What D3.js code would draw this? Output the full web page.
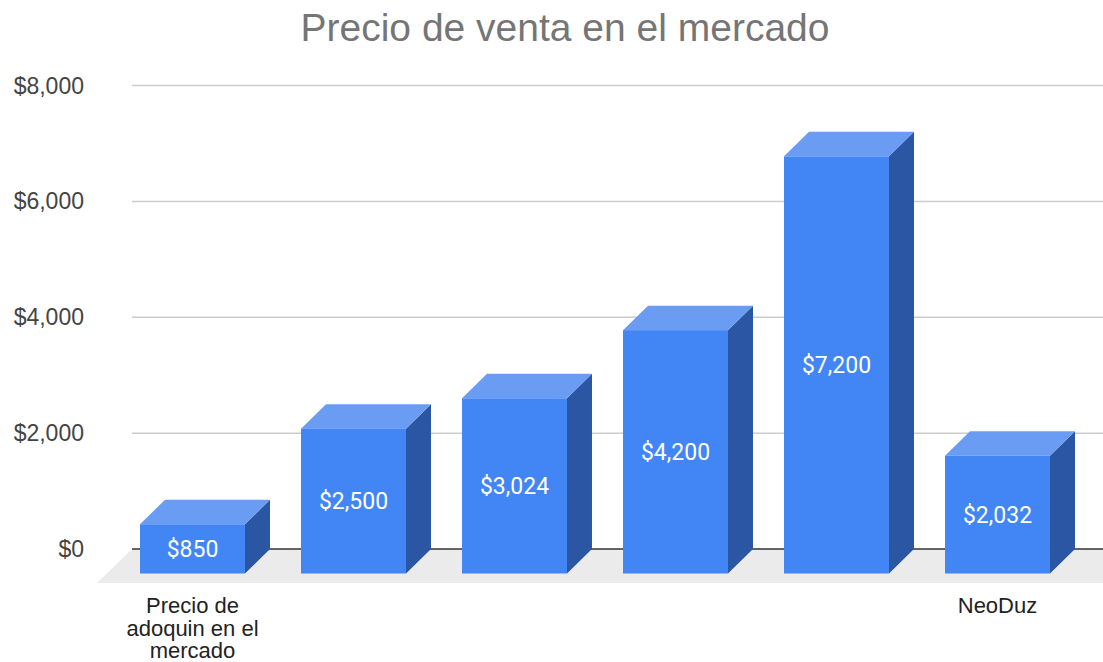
<!DOCTYPE html>
<html>
<head>
<meta charset="utf-8">
<script src="https://cdn.jsdelivr.net/npm/d3@7"></script>
<style>
  body { margin: 0; background: #fff; }
</style>
</head>
<body>
<div id="chart"></div>
<script>
// data
const categories = ["Precio de adoquin en el mercado", "", "", "", "", "NeoDuz"];
const prices = [850, 2500, 3024, 4200, 7200, 2032];
const yTicks = [0, 2000, 4000, 6000, 8000];

const width = 1103, height = 662;
const depthX = 25, depthY = 24.5;   // 3d offset of the back plane

const svg = d3.select("#chart").append("svg")
    .attr("width", width)
    .attr("height", height);

// back plane scales
const x = d3.scaleBand()
    .domain(d3.range(categories.length))
    .range([137, 1103])
    .paddingInner(0.348)
    .paddingOuter(0.174);

const y = d3.scaleLinear()
    .domain([0, 8000])
    .range([549, 85.5]);

const fmt = v => "$" + d3.format(",")(v);

// title
svg.append("text")
    .attr("x", 565)
    .attr("y", 41)
    .attr("text-anchor", "middle")
    .attr("font-family", "Liberation Sans, Arial, sans-serif")
    .attr("font-size", "39px")
    .attr("fill", "#757575")
    .text("Precio de venta en el mercado");

// floor
const floorBack = y(0), floorFront = floorBack + 34;
svg.append("polygon")
    .attr("points", [[132, floorBack], [1140, floorBack], [1106, floorFront], [97, floorFront]].join(" "))
    .attr("fill", "#ebebeb");

// gridlines
svg.append("g").selectAll("line")
    .data(yTicks.filter(d => d > 0))
    .join("line")
    .attr("x1", 132)
    .attr("x2", width)
    .attr("y1", d => y(d))
    .attr("y2", d => y(d))
    .attr("stroke", "#cccccc")
    .attr("stroke-width", 1.5);

// zero line
svg.append("line")
    .attr("x1", 132)
    .attr("x2", width)
    .attr("y1", y(0))
    .attr("y2", y(0))
    .attr("stroke", "#333333")
    .attr("stroke-width", 1.5);

// y labels
svg.append("g").selectAll("text")
    .data(yTicks)
    .join("text")
    .attr("x", 84)
    .attr("y", d => y(d) + 8)
    .attr("text-anchor", "end")
    .attr("font-family", "Liberation Sans, Arial, sans-serif")
    .attr("font-size", "23px")
    .attr("fill", "#444444")
    .text(fmt);

// bars
const bars = svg.append("g").selectAll("g")
    .data(prices)
    .join("g");

const bw = x.bandwidth();
const fx = (d, i) => x(i) - depthX;          // front left
const ft = d => y(d) + depthY;               // front top
const fb = y(0) + depthY;                    // front bottom

bars.append("polygon")  // side
    .attr("points", (d, i) => [
        [fx(d, i) + bw, ft(d)],
        [fx(d, i) + bw + depthX, ft(d) - depthY],
        [fx(d, i) + bw + depthX, fb - depthY],
        [fx(d, i) + bw, fb]
    ].join(" "))
    .attr("fill", "#2b56a3");

bars.append("polygon")  // top
    .attr("points", (d, i) => [
        [fx(d, i), ft(d)],
        [fx(d, i) + bw, ft(d)],
        [fx(d, i) + bw + depthX, ft(d) - depthY],
        [fx(d, i) + depthX, ft(d) - depthY]
    ].join(" "))
    .attr("fill", "#6a9cf4");

bars.append("rect")     // front
    .attr("x", (d, i) => fx(d, i))
    .attr("y", d => ft(d))
    .attr("width", bw)
    .attr("height", d => fb - ft(d))
    .attr("fill", "#4285f4");

bars.append("text")
    .attr("x", (d, i) => fx(d, i) + bw / 2)
    .attr("y", d => (ft(d) + fb) / 2 + 8)
    .attr("text-anchor", "middle")
    .attr("font-family", "Roboto, sans-serif")
    .attr("font-size", "23px")
    .attr("fill", "#ffffff")
    .text(fmt);

// category labels (wrapped)
const catG = svg.append("g").selectAll("text")
    .data(categories)
    .join("text")
    .attr("x", (d, i) => fx(0, i) + bw / 2)
    .attr("y", 613)
    .attr("text-anchor", "middle")
    .attr("font-family", "Liberation Sans, Arial, sans-serif")
    .attr("font-size", "22px")
    .attr("fill", "#222222");

catG.each(function(d) {
    const t = d3.select(this);
    const words = d.split(" ").filter(w => w.length);
    let line = [];
    let tspan = t.append("tspan").attr("x", t.attr("x")).attr("dy", 0);
    words.forEach(w => {
        line.push(w);
        tspan.text(line.join(" "));
        if (tspan.node().getComputedTextLength() > 158 && line.length > 1) {
            line.pop();
            tspan.text(line.join(" "));
            line = [w];
            tspan = t.append("tspan").attr("x", t.attr("x")).attr("dy", 22.5).text(w);
        }
    });
});
</script>
</body>
</html>
